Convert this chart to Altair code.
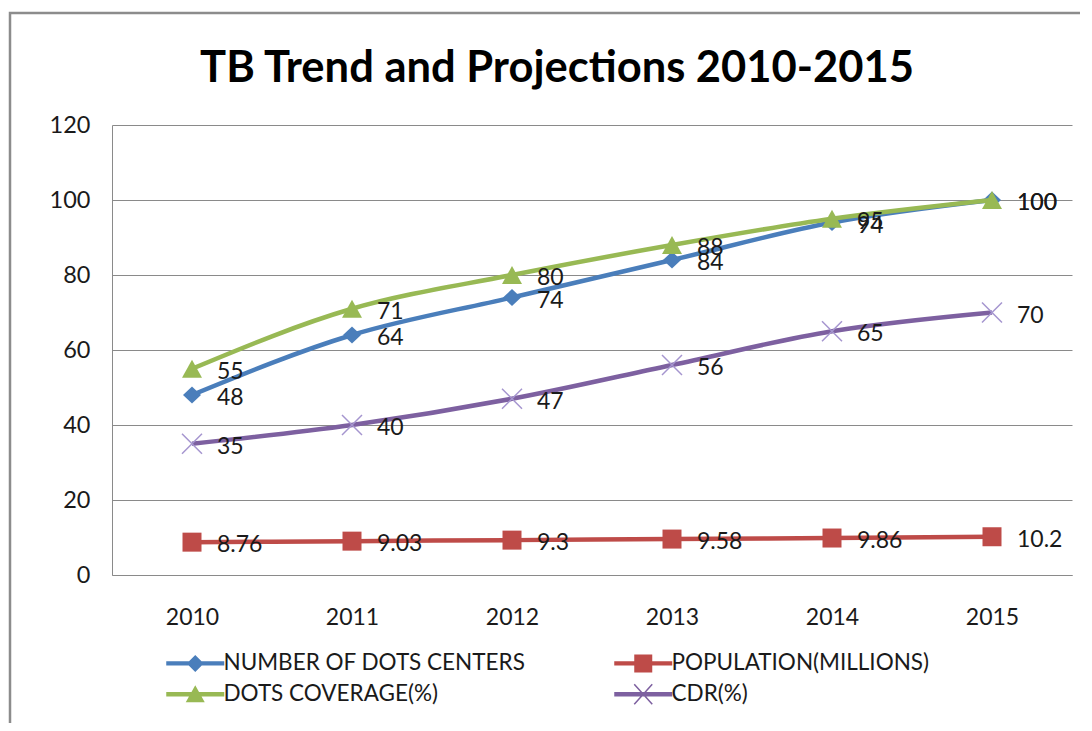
import altair as alt
import pandas as pd

# ---------------- data ----------------
years = ["2010", "2011", "2012", "2013", "2014", "2015"]
series_names = ["NUMBER OF DOTS CENTERS", "POPULATION(MILLIONS)", "DOTS COVERAGE(%)", "CDR(%)"]
dots_centers = [48, 64, 74, 84, 94, 100]
population = [8.76, 9.03, 9.3, 9.58, 9.86, 10.2]
dots_coverage = [55, 71, 80, 88, 95, 100]
cdr = [35, 40, 47, 56, 65, 70]
y_ticks = [0, 20, 40, 60, 80, 100, 120]
title_text = "TB Trend and Projections 2010-2015"

# ---------------- styles ----------------
colors = ["#4A7EBB", "#BE4B48", "#98B954", "#7D60A0"]
cross_color = "#A595CF"
FONT = "Lato"
TXT = "#1a1a1a"
GRID = "#8a8a8a"

# marker paths (unit = sqrt(size)/2 px)
diamond = "M0,-0.85L0.9,0L0,0.85L-0.9,0Z"
square = "M-0.95,-0.95H0.95V0.95H-0.95Z"
triangle = "M0,-0.9L1.0,0.9L-1.0,0.9Z"
xmark = "M-1,-1L1,1M-1,1L1,-1"

# legend symbols: line + marker as filled shapes
bar = "M-2.9,-0.22H2.9V0.22H-2.9Z"
leg_paths = [
    bar + "M0,-0.85L0.85,0L0,0.85L-0.85,0Z",
    bar + "M-0.9,-0.9H0.9V0.9H-0.9Z",
    bar + "M0,-0.9L0.95,0.8L-0.95,0.8Z",
    bar + "M-0.844,-1.05L0.956,0.95L0.844,1.05L-0.956,-0.95Z"
          "M0.956,-0.95L-0.844,1.05L-0.956,0.95L0.844,-1.05Z",
]

rows = []
for name, vals in zip(series_names, [dots_centers, population, dots_coverage, cdr]):
    for yr, v in zip(years, vals):
        rows.append({"year": yr, "series": name, "value": v, "label": f"{v:g}"})
df = pd.DataFrame(rows)

color_scale = alt.Scale(domain=series_names, range=colors)
X = alt.X("year:N", scale=alt.Scale(type="point", domain=years, padding=0.5),
          axis=alt.Axis(title=None, labelAngle=0, ticks=False, grid=False, labelPadding=31,
                        domainColor=GRID, labelFont=FONT, labelFontSize=23, labelColor=TXT))
Y = alt.Y("value:Q", scale=alt.Scale(domain=[0, 120], nice=False, zero=True),
          axis=alt.Axis(title=None, values=y_ticks, ticks=False, labelPadding=22,
                        domainColor=GRID, gridColor=GRID, gridWidth=1,
                        labelFont=FONT, labelFontSize=23.5, labelColor=TXT))

base = alt.Chart(df)

frame = alt.Chart(pd.DataFrame({"k": [0]})).mark_rect(
    fillOpacity=0, stroke="#8c8c8c", strokeWidth=2.5
).encode(x=alt.value(-102), x2=alt.value(1300), y=alt.value(-112), y2=alt.value(900))

title = alt.Chart(pd.DataFrame({"t": [title_text]})).mark_text(
    font=FONT, fontSize=43.5, fontWeight="bold", color="#000000",
    align="center", baseline="alphabetic"
).encode(text="t:N", x=alt.value(445), y=alt.value(-43))

layers = [frame, title]
markers = [diamond, square, triangle, xmark]
for i, name in enumerate(series_names):
    sub = base.transform_filter(alt.datum.series == name)
    layers.append(sub.mark_line(interpolate="monotone", strokeWidth=4.5, color=colors[i])
                  .encode(x=X, y=Y))
    if i < 3:
        layers.append(sub.mark_point(shape=markers[i], size=400, filled=True, opacity=1,
                                     color=colors[i]).encode(x=X, y=Y))
    else:
        layers.append(sub.mark_point(shape=markers[i], size=400, filled=False, opacity=1,
                                     strokeWidth=1.5, color=cross_color).encode(x=X, y=Y))

labels = base.mark_text(align="left", baseline="middle", dx=25, dy=3,
                        font=FONT, fontSize=23, color=TXT).encode(x=X, y=Y, text="label:N")
layers.append(labels)

leg_kwargs = dict(title=None, orient="none", legendX=72, legendY=527, columns=2,
                  direction="horizontal",
                  columnPadding=88, rowPadding=8, symbolSize=400, symbolStrokeWidth=0,
                  symbolOpacity=1, labelFont=FONT, labelFontSize=22.5, labelColor=TXT,
                  labelOffset=17, labelLimit=0)
legend_layer = base.mark_point(filled=True, opacity=0, size=400).encode(
    x=X, y=Y,
    color=alt.Color("series:N", scale=color_scale, legend=alt.Legend(**leg_kwargs)),
    shape=alt.Shape("series:N", scale=alt.Scale(domain=series_names, range=leg_paths),
                    legend=alt.Legend(**leg_kwargs)),
)
layers.append(legend_layer)

chart = alt.layer(*layers).properties(
    width=960, height=450,
    autosize=alt.AutoSizeParams(type="none"),
    padding={"left": 104, "top": 117, "right": 8, "bottom": 148},
    background="white",
).configure_view(strokeWidth=0)

chart.save("out.html", embed_options={"renderer": "svg", "actions": False})
